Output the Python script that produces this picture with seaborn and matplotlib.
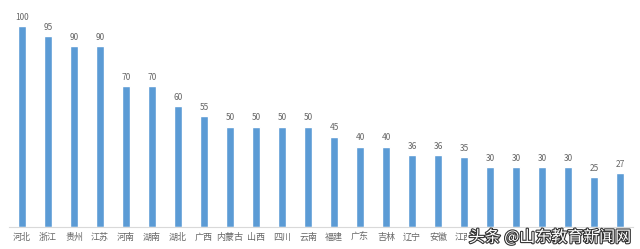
import matplotlib
matplotlib.use("Agg")
import matplotlib.pyplot as plt
import matplotlib.patheffects as pe
import seaborn as sns
import pandas as pd

provinces = ["河北", "浙江", "贵州", "江苏", "河南", "湖南", "湖北", "广西", "内蒙古", "山西",
             "四川", "云南", "福建", "广东", "吉林", "辽宁", "安徽", "江西", "陕西", "甘肃",
             "黑龙江", "山东", "重庆", "新疆"]
values = [100, 95, 90, 90, 70, 70, 60, 55, 50, 50, 50, 50, 45, 40, 40, 36, 36, 35,
          30, 30, 30, 30, 25, 27]

df = pd.DataFrame({"province": provinces, "value": values})

sns.set_theme(style="white")
plt.rcParams["font.family"] = ["Noto Sans CJK SC", "DejaVu Sans"]

fig = plt.figure(figsize=(6.4, 2.49), dpi=100)
ax = fig.add_axes([9 / 640, 22 / 249, 624 / 640, 221 / 249])

sns.barplot(data=df, x="province", y="value", color="#5B9BD5", width=0.31,
            saturation=1, ax=ax)

for c in ax.containers:
    ax.bar_label(c, labels=[str(v) for v in values], padding=3, fontsize=6,
                 color="#666666")

ax.set_ylim(0, 110)
ax.set_xlim(-0.5, len(provinces) - 0.5)
ax.set_xlabel("")
ax.set_ylabel("")
ax.set_yticks([])
ax.tick_params(axis="x", length=0, pad=4, labelsize=6.5, labelcolor="#666666")
for s in ["top", "right", "left"]:
    ax.spines[s].set_visible(False)
ax.spines["bottom"].set_color("#D9D9D9")
ax.spines["bottom"].set_linewidth(0.8)

fig.text(550 / 640, 11.5 / 249, "头条 @山东教育新闻网", fontsize=11.5, color="white",
         ha="center", va="center",
         path_effects=[pe.withStroke(linewidth=1.6, foreground="#333333")],
         bbox=dict(facecolor="white", edgecolor="none", pad=1))

fig.savefig("out.png", dpi=100)
